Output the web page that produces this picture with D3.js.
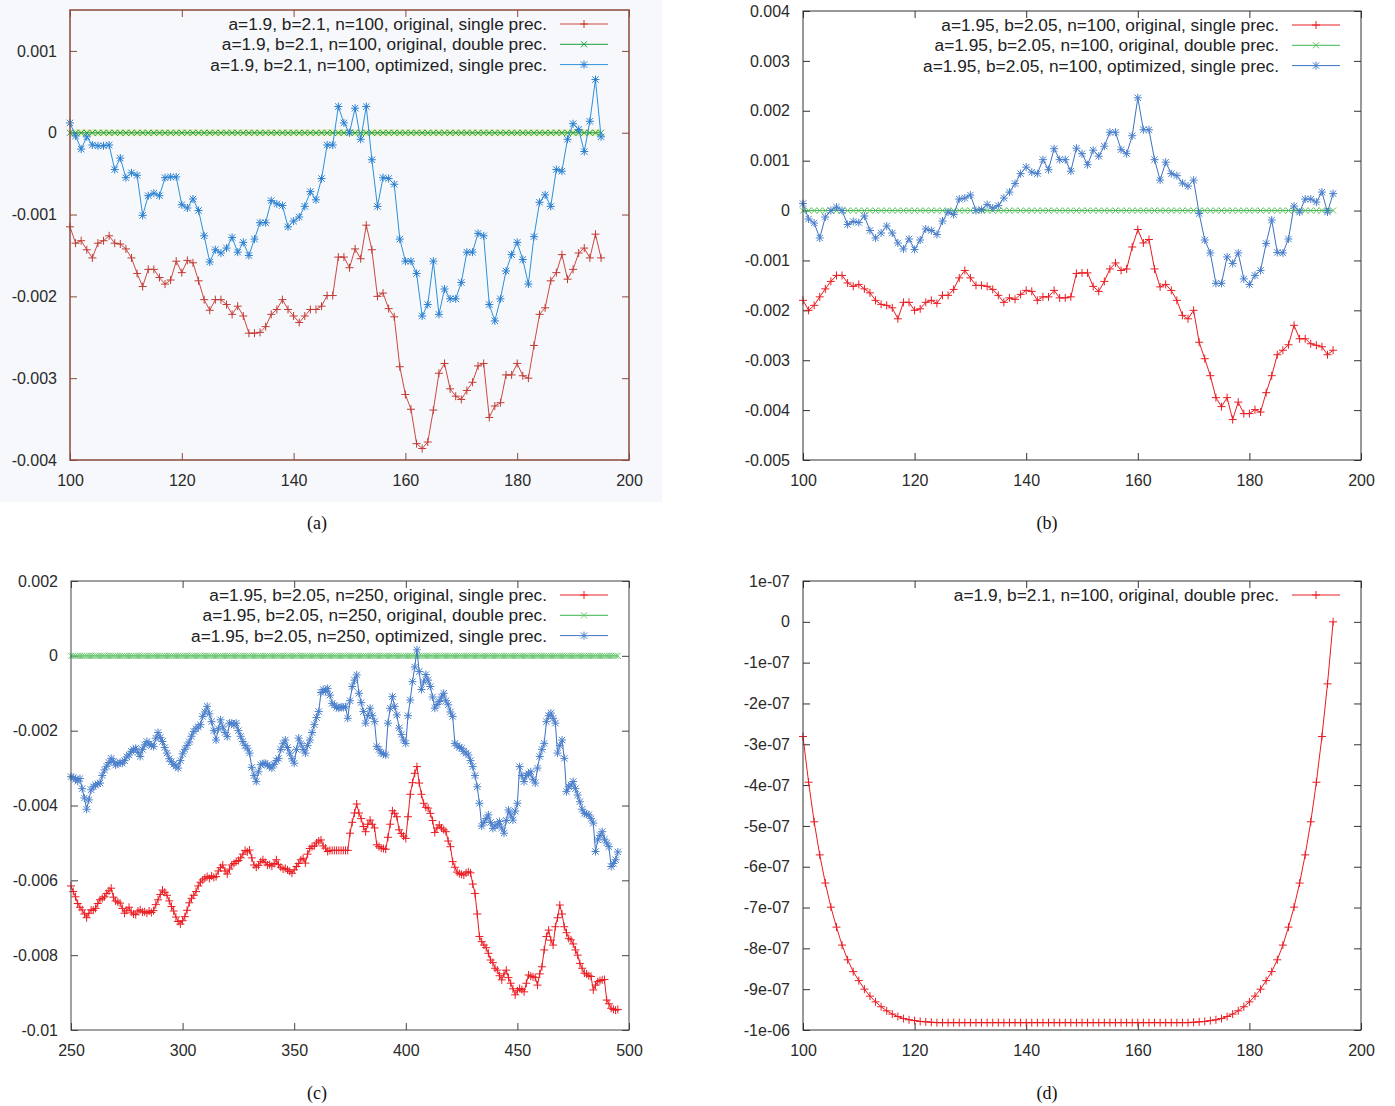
<!DOCTYPE html>
<html>
<head>
<meta charset="utf-8">
<script src="https://cdn.jsdelivr.net/npm/d3@7"></script>
<style>
body { margin: 0; background: #fff; }
</style>
</head>
<body>
<svg id="chart" width="1395" height="1106" font-family="Liberation Sans, Arial, sans-serif"></svg>
<script>
// error curves
// (a),(b),(c) values are in units of 1e-3, (d) in units of 1e-7

var xN100 = d3.range(100, 196);
var xN250 = d3.range(250, 496);

var redA = [-1.15,-1.35,-1.32,-1.43,-1.53,-1.35,-1.32,-1.26,-1.35,-1.36,
  -1.42,-1.53,-1.72,-1.88,-1.67,-1.67,-1.77,-1.85,-1.80,-1.57,
  -1.71,-1.56,-1.59,-1.81,-2.04,-2.17,-2.04,-2.04,-2.10,-2.22,
  -2.12,-2.24,-2.45,-2.45,-2.44,-2.37,-2.22,-2.16,-2.04,-2.16,
  -2.24,-2.32,-2.24,-2.16,-2.16,-2.12,-1.99,-1.99,-1.52,-1.52,
  -1.65,-1.42,-1.54,-1.13,-1.43,-2.00,-1.96,-2.15,-2.25,-2.86,
  -3.20,-3.38,-3.80,-3.86,-3.78,-3.39,-2.94,-2.82,-3.13,-3.22,
  -3.26,-3.15,-3.05,-2.85,-2.82,-3.48,-3.34,-3.30,-2.96,-2.96,
  -2.82,-2.97,-3.00,-2.60,-2.22,-2.14,-1.81,-1.71,-1.49,-1.79,
  -1.67,-1.47,-1.41,-1.53,-1.24,-1.53];

var blueA = [0.12,-0.04,-0.20,-0.05,-0.15,-0.16,-0.16,-0.15,-0.45,-0.31,
  -0.55,-0.49,-0.52,-1.01,-0.77,-0.74,-0.77,-0.55,-0.54,-0.54,
  -0.88,-0.92,-0.81,-0.95,-1.26,-1.58,-1.43,-1.47,-1.41,-1.28,
  -1.46,-1.34,-1.50,-1.30,-1.10,-1.10,-0.83,-0.87,-0.89,-1.15,
  -1.08,-1.03,-0.90,-0.72,-0.82,-0.56,-0.15,-0.15,0.32,0.12,
  0.00,0.30,-0.08,0.32,-0.33,-0.90,-0.55,-0.56,-0.63,-1.30,
  -1.57,-1.57,-1.72,-2.24,-2.10,-1.57,-2.22,-1.91,-2.03,-2.03,
  -1.83,-1.46,-1.46,-1.23,-1.26,-2.10,-2.30,-2.03,-1.69,-1.49,
  -1.34,-1.55,-1.85,-1.27,-0.85,-0.76,-0.90,-0.45,-0.47,-0.08,
  0.11,0.04,-0.23,0.14,0.65,-0.05];

var redB = [-1.80,-2.00,-1.90,-1.73,-1.57,-1.42,-1.30,-1.30,-1.45,-1.52,
  -1.48,-1.57,-1.65,-1.80,-1.88,-1.90,-1.95,-2.17,-1.84,-1.84,
  -2.00,-1.97,-1.84,-1.80,-1.86,-1.70,-1.70,-1.58,-1.35,-1.20,
  -1.35,-1.50,-1.50,-1.52,-1.58,-1.70,-1.84,-1.75,-1.78,-1.68,
  -1.60,-1.62,-1.80,-1.73,-1.73,-1.60,-1.75,-1.75,-1.73,-1.26,
  -1.25,-1.25,-1.52,-1.62,-1.42,-1.17,-1.05,-1.20,-1.17,-0.73,
  -0.38,-0.65,-0.58,-1.17,-1.53,-1.48,-1.60,-1.80,-2.10,-2.17,
  -2.00,-2.64,-2.97,-3.31,-3.75,-3.93,-3.75,-4.19,-3.84,-4.07,
  -4.07,-3.99,-4.04,-3.65,-3.31,-2.89,-2.80,-2.69,-2.30,-2.57,
  -2.57,-2.67,-2.70,-2.73,-2.89,-2.80];

var blueB = [0.14,-0.17,-0.25,-0.55,-0.13,0.00,0.07,0.00,-0.28,-0.22,
  -0.24,-0.11,-0.40,-0.55,-0.45,-0.31,-0.45,-0.65,-0.77,-0.57,
  -0.78,-0.59,-0.37,-0.40,-0.48,-0.21,-0.03,-0.08,0.23,0.25,
  0.31,0.00,0.02,0.12,0.05,0.10,0.25,0.37,0.54,0.74,
  0.87,0.77,0.74,1.02,0.82,1.24,1.02,1.02,0.79,1.25,
  1.14,0.92,1.21,1.09,1.29,1.57,1.57,1.22,1.14,1.50,
  2.26,1.62,1.62,1.02,0.61,0.97,0.74,0.70,0.55,0.49,
  0.61,-0.06,-0.59,-0.85,-1.46,-1.46,-0.93,-1.06,-0.85,-1.37,
  -1.48,-1.30,-1.20,-0.66,-0.19,-0.84,-0.85,-0.57,0.09,-0.03,
  0.23,0.23,0.17,0.37,-0.03,0.34];

var redC = [-6.15,-6.30,-6.44,-6.62,-6.72,-6.79,-6.90,-7.00,-6.88,-6.79,
  -6.80,-6.75,-6.62,-6.52,-6.48,-6.44,-6.35,-6.28,-6.21,-6.45,
  -6.55,-6.58,-6.61,-6.75,-6.88,-6.80,-6.72,-6.85,-6.90,-6.92,
  -6.82,-6.79,-6.85,-6.84,-6.88,-6.82,-6.86,-6.81,-6.65,-6.52,
  -6.38,-6.26,-6.32,-6.40,-6.55,-6.70,-6.82,-6.98,-7.10,-7.17,
  -7.08,-6.97,-6.80,-6.60,-6.48,-6.40,-6.30,-6.15,-6.05,-5.99,
  -5.94,-5.90,-5.95,-5.88,-5.92,-5.90,-5.75,-5.66,-5.59,-5.75,
  -5.83,-5.70,-5.59,-5.55,-5.50,-5.47,-5.40,-5.30,-5.20,-5.24,
  -5.19,-5.40,-5.59,-5.65,-5.60,-5.50,-5.45,-5.52,-5.59,-5.58,
  -5.62,-5.55,-5.45,-5.58,-5.65,-5.70,-5.68,-5.72,-5.76,-5.81,
  -5.72,-5.63,-5.55,-5.45,-5.41,-5.54,-5.30,-5.15,-5.10,-5.08,
  -5.00,-4.95,-4.92,-5.08,-5.14,-5.23,-5.20,-5.20,-5.20,-5.20,
  -5.20,-5.20,-5.20,-5.20,-5.20,-4.74,-4.45,-4.20,-3.96,-4.20,
  -4.35,-4.56,-4.70,-4.50,-4.39,-4.50,-4.60,-5.05,-5.10,-5.14,
  -5.15,-5.17,-4.85,-4.50,-4.14,-4.21,-4.30,-4.65,-4.75,-4.82,
  -4.88,-4.30,-3.70,-3.39,-3.14,-2.96,-3.40,-3.70,-3.94,-4.05,
  -4.07,-4.21,-4.40,-4.72,-4.60,-4.52,-4.60,-4.65,-4.70,-4.95,
  -5.10,-5.50,-5.65,-5.78,-5.82,-5.84,-5.86,-5.80,-5.77,-5.80,
  -6.10,-6.35,-6.90,-7.50,-7.64,-7.73,-7.80,-7.95,-8.13,-8.20,
  -8.35,-8.40,-8.55,-8.66,-8.50,-8.40,-8.60,-8.75,-8.90,-9.06,
  -8.95,-8.89,-8.92,-8.98,-8.75,-8.53,-8.56,-8.58,-8.60,-8.80,
  -8.50,-8.31,-7.86,-7.50,-7.33,-7.60,-7.73,-7.24,-7.00,-6.66,
  -6.90,-7.24,-7.40,-7.55,-7.59,-7.70,-7.86,-8.00,-8.22,-8.35,
  -8.48,-8.50,-8.55,-8.57,-8.93,-8.80,-8.71,-8.68,-8.66,-8.65,
  -9.20,-9.30,-9.42,-9.45,-9.47,-9.45];

var blueC = [-3.23,-3.25,-3.30,-3.35,-3.28,-3.55,-3.80,-4.10,-3.85,-3.58,
  -3.50,-3.45,-3.42,-3.40,-3.20,-3.05,-2.95,-2.85,-2.74,-2.82,
  -2.92,-2.88,-2.85,-2.87,-2.80,-2.70,-2.65,-2.55,-2.50,-2.47,
  -2.58,-2.69,-2.50,-2.38,-2.29,-2.35,-2.40,-2.42,-2.20,-2.05,
  -2.18,-2.29,-2.45,-2.60,-2.75,-2.83,-2.90,-2.95,-3.00,-2.80,
  -2.62,-2.50,-2.40,-2.30,-2.15,-2.02,-1.95,-1.90,-1.84,-1.62,
  -1.50,-1.35,-1.55,-1.76,-2.00,-2.25,-1.95,-1.71,-1.90,-2.05,
  -2.16,-1.80,-1.80,-1.85,-1.80,-2.00,-2.15,-2.29,-2.40,-2.47,
  -2.60,-2.98,-3.20,-3.36,-3.10,-2.91,-2.88,-2.87,-2.92,-2.95,
  -3.00,-2.90,-2.80,-2.74,-2.50,-2.35,-2.25,-2.45,-2.60,-2.75,
  -2.87,-2.50,-2.20,-2.35,-2.50,-2.60,-2.40,-2.25,-2.05,-1.84,
  -1.65,-1.49,-0.98,-0.90,-0.95,-0.87,-1.05,-1.27,-1.32,-1.38,
  -1.40,-1.36,-1.38,-1.36,-1.67,-1.20,-0.82,-0.65,-0.51,-1.00,
  -1.25,-1.49,-1.80,-1.60,-1.40,-1.60,-1.76,-2.42,-2.50,-2.60,
  -2.62,-2.65,-1.80,-1.40,-1.09,-1.35,-1.58,-1.93,-2.10,-2.25,
  -2.34,-1.60,-1.18,-0.69,-0.30,0.16,-0.42,-0.90,-0.70,-0.50,
  -0.65,-0.82,-1.10,-1.40,-1.30,-1.22,-1.10,-1.00,-1.20,-1.31,
  -1.50,-1.62,-2.34,-2.40,-2.45,-2.47,-2.55,-2.60,-2.65,-2.80,
  -2.96,-3.20,-3.50,-3.94,-4.55,-4.45,-4.35,-4.25,-4.45,-4.61,
  -4.55,-4.50,-4.43,-4.60,-4.74,-4.40,-4.12,-4.25,-4.39,-4.15,
  -3.94,-2.96,-3.20,-3.36,-3.20,-3.15,-3.10,-3.30,-3.40,-3.00,
  -2.69,-2.50,-2.34,-1.76,-1.60,-1.53,-1.67,-1.80,-2.60,-2.40,
  -2.25,-2.74,-3.63,-3.50,-3.45,-3.36,-3.55,-3.72,-3.90,-4.10,
  -4.21,-4.23,-4.25,-4.35,-4.47,-5.23,-4.92,-4.80,-4.70,-4.90,
  -5.00,-5.10,-5.63,-5.55,-5.45,-5.24];

// (d): a=1.9, b=2.1, n=100, original, double prec. (units 1e-7)
var dblD = [-2.81,-3.93,-4.90,-5.71,-6.40,-6.99,-7.48,-7.92,-8.28,-8.57,
  -8.79,-9.00,-9.17,-9.31,-9.43,-9.53,-9.61,-9.67,-9.72,-9.75,
  -9.77,-9.79,-9.80,-9.81,-9.82,-9.82,-9.82,-9.82,-9.82,-9.82,
  -9.82,-9.82,-9.82,-9.82,-9.82,-9.82,-9.82,-9.82,-9.82,-9.82,
  -9.82,-9.82,-9.82,-9.82,-9.82,-9.82,-9.82,-9.82,-9.82,-9.82,
  -9.82,-9.82,-9.82,-9.82,-9.82,-9.82,-9.82,-9.82,-9.82,-9.82,
  -9.82,-9.82,-9.82,-9.82,-9.82,-9.82,-9.82,-9.82,-9.82,-9.82,
  -9.81,-9.80,-9.79,-9.77,-9.75,-9.72,-9.67,-9.61,-9.53,-9.43,
  -9.31,-9.17,-9.00,-8.79,-8.57,-8.28,-7.92,-7.48,-6.99,-6.40,
  -5.71,-4.90,-3.93,-2.81,-1.52,0.00];

// double prec. curves of (b) and (c) sit on zero at the plotted scale
var dblB = xN100.map(function() { return 0; });
var dblC = xN250.map(function() { return 0; });

var ticksX100 = [100, 120, 140, 160, 180, 200];
var ticksX250 = [250, 300, 350, 400, 450, 500];
var ticksYA = [0.001, 0, -0.001, -0.002, -0.003, -0.004];
var ticksYB = [0.004, 0.003, 0.002, 0.001, 0, -0.001, -0.002, -0.003, -0.004, -0.005];
var ticksYC = [0.002, 0, -0.002, -0.004, -0.006, -0.008, -0.01];
var ticksYD = [1e-7, 0, -1e-7, -2e-7, -3e-7, -4e-7, -5e-7, -6e-7, -7e-7, -8e-7, -9e-7, -1e-6];
var labelsYD = ["1e-07","0","-1e-07","-2e-07","-3e-07","-4e-07","-5e-07","-6e-07","-7e-07","-8e-07","-9e-07","-1e-06"];

var legendA = ["a=1.9, b=2.1, n=100, original, single prec.",
               "a=1.9, b=2.1, n=100, original, double prec.",
               "a=1.9, b=2.1, n=100, optimized, single prec."];
var legendB = ["a=1.95, b=2.05, n=100, original, single prec.",
               "a=1.95, b=2.05, n=100, original, double prec.",
               "a=1.95, b=2.05, n=100, optimized, single prec."];
var legendC = ["a=1.95, b=2.05, n=250, original, single prec.",
               "a=1.95, b=2.05, n=250, original, double prec.",
               "a=1.95, b=2.05, n=250, optimized, single prec."];
var legendD = ["a=1.9, b=2.1, n=100, original, double prec."];

var svg = d3.select("#chart");

// panel (a) is a scanned bitmap: greyish paper and brown frame
svg.append("rect").attr("x", 0).attr("y", 0).attr("width", 662).attr("height", 502)
  .attr("fill", "#f6f8fb");

function marker(type, s) {
  if (type === "plus") return "M" + (-s) + ",0h" + 2 * s + "M0," + (-s) + "v" + 2 * s;
  if (type === "cross") return "M" + (-s) + "," + (-s) + "L" + s + "," + s + "M" + (-s) + "," + s + "L" + s + "," + (-s);
  // star = plus + cross
  var k = s * 0.8;
  return "M" + (-s) + ",0h" + 2 * s + "M0," + (-s) + "v" + 2 * s +
    "M" + (-k) + "," + (-k) + "L" + k + "," + k + "M" + (-k) + "," + k + "L" + k + "," + (-k);
}

function fmt(v) { return String(+v.toFixed(6)); }

function drawPanel(p) {
  var g = svg.append("g");
  var x = d3.scaleLinear().domain(p.xDom).range([p.left, p.left + p.w]);
  var y = d3.scaleLinear().domain(p.yDom).range([p.top + p.h, p.top]);

  // ticks on all four sides, pointing inwards
  g.append("g").attr("transform", "translate(0," + (p.top + p.h) + ")")
    .call(d3.axisBottom(x).tickValues(p.xTicks).tickSize(-7).tickPadding(15).tickFormat(d3.format("d")));
  g.append("g").attr("transform", "translate(0," + p.top + ")")
    .call(d3.axisTop(x).tickValues(p.xTicks).tickSize(-7).tickFormat(""));
  g.append("g").attr("transform", "translate(" + p.left + ",0)")
    .call(d3.axisLeft(y).tickValues(p.yTicks).tickSize(-7).tickPadding(13)
      .tickFormat(function(d, i) { return p.yLabels ? p.yLabels[i] : fmt(d); }));
  g.append("g").attr("transform", "translate(" + (p.left + p.w) + ",0)")
    .call(d3.axisRight(y).tickValues(p.yTicks).tickSize(-7).tickFormat(""));
  g.selectAll(".domain").remove();
  g.selectAll(".tick line").attr("stroke", p.frame).attr("stroke-width", 1);
  g.selectAll(".tick text").attr("font-size", 16).attr("fill", "#2a2a2a")
    .attr("font-family", "Liberation Sans, Arial, sans-serif");

  var line = d3.line().x(function(d) { return x(d[0]); }).y(function(d) { return y(d[1]); });

  p.series.forEach(function(s) {
    var pts = s.xs.map(function(xv, i) { return [xv, s.vals[i] * s.unit]; });
    if (s.glow) {
      g.append("path").datum(pts).attr("d", line).attr("fill", "none")
        .attr("stroke", s.glow).attr("stroke-width", 7).attr("opacity", 0.55);
    }
    g.append("path").datum(pts).attr("d", line).attr("fill", "none")
      .attr("stroke", s.color).attr("stroke-width", 1);
    g.append("g").selectAll("path").data(pts).enter().append("path")
      .attr("transform", function(d) { return "translate(" + x(d[0]) + "," + y(d[1]) + ")"; })
      .attr("d", marker(s.mark, s.size))
      .attr("stroke", s.mcolor || s.color).attr("stroke-width", 1).attr("fill", "none");
  });

  // legend, top right
  p.legend.forEach(function(txt, i) {
    var s = p.series[p.legendSeries ? p.legendSeries[i] : i];
    var ly = p.top + 14 + i * 20.3;
    var lx = p.left + p.w - 82;
    g.append("text").attr("x", lx).attr("y", ly).attr("dy", "0.35em")
      .attr("text-anchor", "end").attr("font-size", 17.3).attr("fill", "#222").text(txt);
    g.append("line").attr("x1", lx + 13).attr("x2", lx + 61).attr("y1", ly).attr("y2", ly)
      .attr("stroke", s.color).attr("stroke-width", 1);
    g.append("path").attr("transform", "translate(" + (lx + 37) + "," + ly + ")")
      .attr("d", marker(s.mark, s.size)).attr("stroke", s.mcolor || s.color).attr("fill", "none");
  });

  g.append("rect").attr("x", p.left).attr("y", p.top).attr("width", p.w).attr("height", p.h)
    .attr("fill", "none").attr("stroke", p.frame).attr("stroke-width", p.frameW || 1);

  svg.append("text").attr("x", p.capX).attr("y", p.top + p.h + 69)
    .attr("text-anchor", "middle").attr("font-size", 18)
    .attr("font-family", "Liberation Serif, Times New Roman, serif").attr("fill", "#111")
    .text(p.caption);
}

var RED = "#ea1c22", GREEN = "#3db34a", BLUE = "#3d72c2";

drawPanel({
  left: 70, top: 10, w: 559, h: 450, frame: "#8a4a3c", frameW: 1.5, capX: 317,
  xDom: [100, 200], yDom: [-0.004, 0.0015], xTicks: ticksX100, yTicks: ticksYA,
  caption: "(a)", legend: legendA,
  series: [
    {xs: xN100, vals: redA, unit: 1e-3, color: "#cc4a44", mcolor: "#c23a34", mark: "plus", size: 4},
    {xs: xN100, vals: dblD, unit: 1e-7, color: "#1f9e3c", mark: "cross", size: 3, glow: "#dfe98a"},
    {xs: xN100, vals: blueA, unit: 1e-3, color: "#2e90dc", mcolor: "#2a7fd0", mark: "star", size: 4}
  ]
});

drawPanel({
  left: 803, top: 11, w: 558, h: 449, frame: "#333", capX: 1047,
  xDom: [100, 200], yDom: [-0.005, 0.004], xTicks: ticksX100, yTicks: ticksYB,
  caption: "(b)", legend: legendB,
  series: [
    {xs: xN100, vals: redB, unit: 1e-3, color: RED, mark: "plus", size: 4},
    {xs: xN100, vals: dblB, unit: 1e-3, color: GREEN, mcolor: "#5cc466", mark: "cross", size: 3},
    {xs: xN100, vals: blueB, unit: 1e-3, color: BLUE, mcolor: "#4a7fcc", mark: "star", size: 4}
  ]
});

drawPanel({
  left: 71, top: 581, w: 558, h: 449, frame: "#444", capX: 317,
  xDom: [250, 500], yDom: [-0.01, 0.002], xTicks: ticksX250, yTicks: ticksYC,
  caption: "(c)", legend: legendC,
  series: [
    {xs: xN250, vals: redC, unit: 1e-3, color: RED, mark: "plus", size: 4},
    {xs: xN250, vals: dblC, unit: 1e-3, color: GREEN, mcolor: "#6cc876", mark: "cross", size: 3},
    {xs: xN250, vals: blueC, unit: 1e-3, color: BLUE, mcolor: "#4a7fcc", mark: "star", size: 4}
  ]
});

drawPanel({
  left: 803, top: 581, w: 558, h: 449, frame: "#333", capX: 1047,
  xDom: [100, 200], yDom: [-1e-6, 1e-7], xTicks: ticksX100, yTicks: ticksYD, yLabels: labelsYD,
  caption: "(d)", legend: legendD,
  series: [
    {xs: xN100, vals: dblD, unit: 1e-7, color: RED, mark: "plus", size: 4}
  ]
});
</script>
</body>
</html>
